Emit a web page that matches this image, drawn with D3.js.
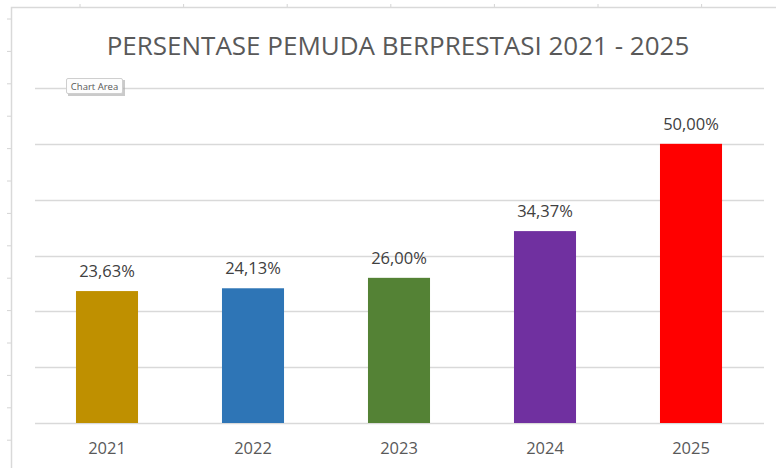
<!DOCTYPE html>
<html>
<head>
<meta charset="utf-8">
<script src="https://cdn.jsdelivr.net/npm/d3@7"></script>
<style>
  html, body { margin: 0; padding: 0; background: #fff; }
  .chart { width: 776px; height: 468px; }
  text { font-family: "Open Sans", "Noto Sans", sans-serif; }
</style>
</head>
<body>
<div class="chart"></div>
<script>
// data
const years = ["2021", "2022", "2023", "2024", "2025"];
const values = [23.63, 24.13, 26.00, 34.37, 50.00];
const barColors = ["#bf9000", "#2e75b6", "#548235", "#7030a0", "#ff0000"];
const yTicks = [0, 10, 20, 30, 40, 50, 60];
const title = "PERSENTASE PEMUDA BERPRESTASI 2021 - 2025";

const W = 776, H = 468;
const plot = { left: 34, right: 764, top: 88, bottom: 423 };

const svg = d3.select(".chart")
    .append("svg")
    .attr("width", W)
    .attr("height", H);

// spreadsheet background bits (cell ticks around chart area)
const bg = svg.append("g");
d3.range(19, H, 32.4).forEach(y => {
    bg.append("line").attr("x1", 7).attr("x2", 11).attr("y1", y).attr("y2", y)
        .attr("stroke", "#d4d4d4");
});
d3.range(80, W, 103.6).forEach(x => {
    bg.append("line").attr("x1", x).attr("x2", x).attr("y1", 4).attr("y2", 8)
        .attr("stroke", "#d4d4d4");
});
// chart area border
bg.append("rect")
    .attr("x", 11.5).attr("y", 7.5)
    .attr("width", W).attr("height", H)
    .attr("fill", "#fff")
    .attr("stroke", "#d9d9d9")
    .attr("stroke-width", 1.5);

// scales
const x = d3.scaleBand()
    .domain(years)
    .range([plot.left, plot.right])
    .paddingInner(0.575)
    .paddingOuter(0.2875);

const y = d3.scaleLinear()
    .domain([0, 60])
    .range([plot.bottom, plot.top]);

const fmt = d3.formatLocale({ decimal: ",", thousands: ".", grouping: [3], currency: ["", ""] }).format(".2f");

// gridlines
svg.append("g")
    .selectAll("line")
    .data(yTicks)
    .join("line")
    .attr("x1", plot.left + 1)
    .attr("x2", plot.right)
    .attr("y1", d => Math.round(y(d)) + 0.5)
    .attr("y2", d => Math.round(y(d)) + 0.5)
    .attr("stroke", "#d9d9d9")
    .attr("stroke-width", 1.5);

// bars
svg.append("g")
    .selectAll("rect")
    .data(values)
    .join("rect")
    .attr("x", (d, i) => x(years[i]))
    .attr("y", d => y(d))
    .attr("width", x.bandwidth())
    .attr("height", d => y(0) - y(d))
    .attr("fill", (d, i) => barColors[i]);

// value labels
svg.append("g")
    .selectAll("text")
    .data(values)
    .join("text")
    .attr("x", (d, i) => x(years[i]) + x.bandwidth() / 2)
    .attr("y", d => y(d) - 14)
    .attr("text-anchor", "middle")
    .style("font-size", "16.5px")
    .style("fill", "#404040")
    .text(d => fmt(d) + "%");

// x axis labels
const xAxis = svg.append("g")
    .attr("transform", `translate(0,${plot.bottom})`)
    .call(d3.axisBottom(x).tickSize(0).tickPadding(19));
xAxis.select(".domain").remove();
xAxis.selectAll("text")
    .style("font-size", "16.5px")
    .style("fill", "#595959")
    .attr("font-family", null);

// title
svg.append("text")
    .attr("x", 398)
    .attr("y", 55)
    .attr("text-anchor", "middle")
    .style("font-size", "26px")
    .style("fill", "#595959")
    .text(title);

// "Chart Area" tooltip
const tip = svg.append("g").attr("transform", "translate(66,78)");
tip.append("rect")
    .attr("x", 2).attr("y", 2).attr("width", 57).attr("height", 16)
    .attr("fill", "#a6a6a6").attr("opacity", 0.6);
tip.append("rect")
    .attr("x", 0.5).attr("y", 0.5).attr("width", 56).attr("height", 15)
    .attr("rx", 1.5)
    .attr("fill", "#fdfdfd").attr("stroke", "#cfcfcf");
tip.append("text")
    .attr("x", 28.5).attr("y", 11.5)
    .attr("text-anchor", "middle")
    .style("font-size", "9.5px")
    .style("fill", "#575757")
    .text("Chart Area");
</script>
</body>
</html>
